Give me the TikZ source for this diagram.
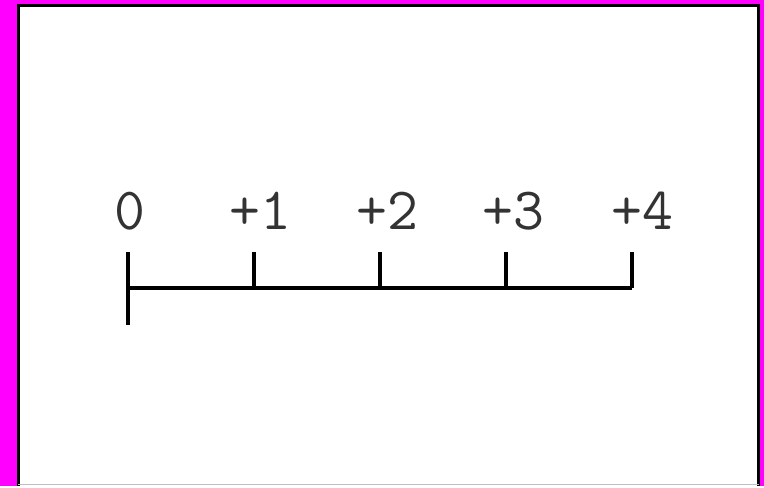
\documentclass[tikz,border=0pt]{standalone}
\usetikzlibrary{positioning}
\definecolor{frame}{RGB}{255,0,255}

\begin{document}
\begin{tikzpicture}[x=0.75pt, y=-0.75pt, font=\fontsize{45}{50}\selectfont\ttfamily]
\tikzset{
  axis/.style={draw=black, line width=2.5pt},
  tick/.style={draw=black, line width=2.5pt},
  num/.style={anchor=base, inner sep=0pt, text=black!80},
}
% background and frame
\fill[frame] (0,0) rectangle (764,486);
\fill[white] (18,5) rectangle (759,486);
\draw[black, line width=2.2pt] (18.5,486) -- (18.5,5.5) -- (758.5,5.5) -- (758.5,486);
\draw[black!25, line width=1pt] (18,484.5) -- (759,484.5);
\useasboundingbox (0,0) rectangle (764,486);

% tick positions
\coordinate (t0) at (128,288);
\coordinate (t1) at (254,288);
\coordinate (t2) at (380,288);
\coordinate (t3) at (506,288);
\coordinate (t4) at (632,288);
\coordinate (t0top) at (128,252);
\coordinate (t0bot) at (128,325);
\coordinate (t1top) at (254,252);
\coordinate (t2top) at (380,252);
\coordinate (t3top) at (506,252);
\coordinate (t4top) at (632,252);

% number line
\draw[axis] (t0) -- (t4);
\draw[tick] (t0top) -- (t0bot);
\draw[tick] (t1top) -- (t1);
\draw[tick] (t2top) -- (t2);
\draw[tick] (t3top) -- (t3);
\draw[tick] (t4top) -- (t4);

% labels
\node[num] (l0) at (130,230) {0};
\node[num] (l1) at (260,230) {+1};
\node[num] (l2) at (387,230) {+2};
\node[num] (l3) at (513,230) {+3};
\node[num] (l4) at (642,230) {+4};
\end{tikzpicture}
\end{document}
